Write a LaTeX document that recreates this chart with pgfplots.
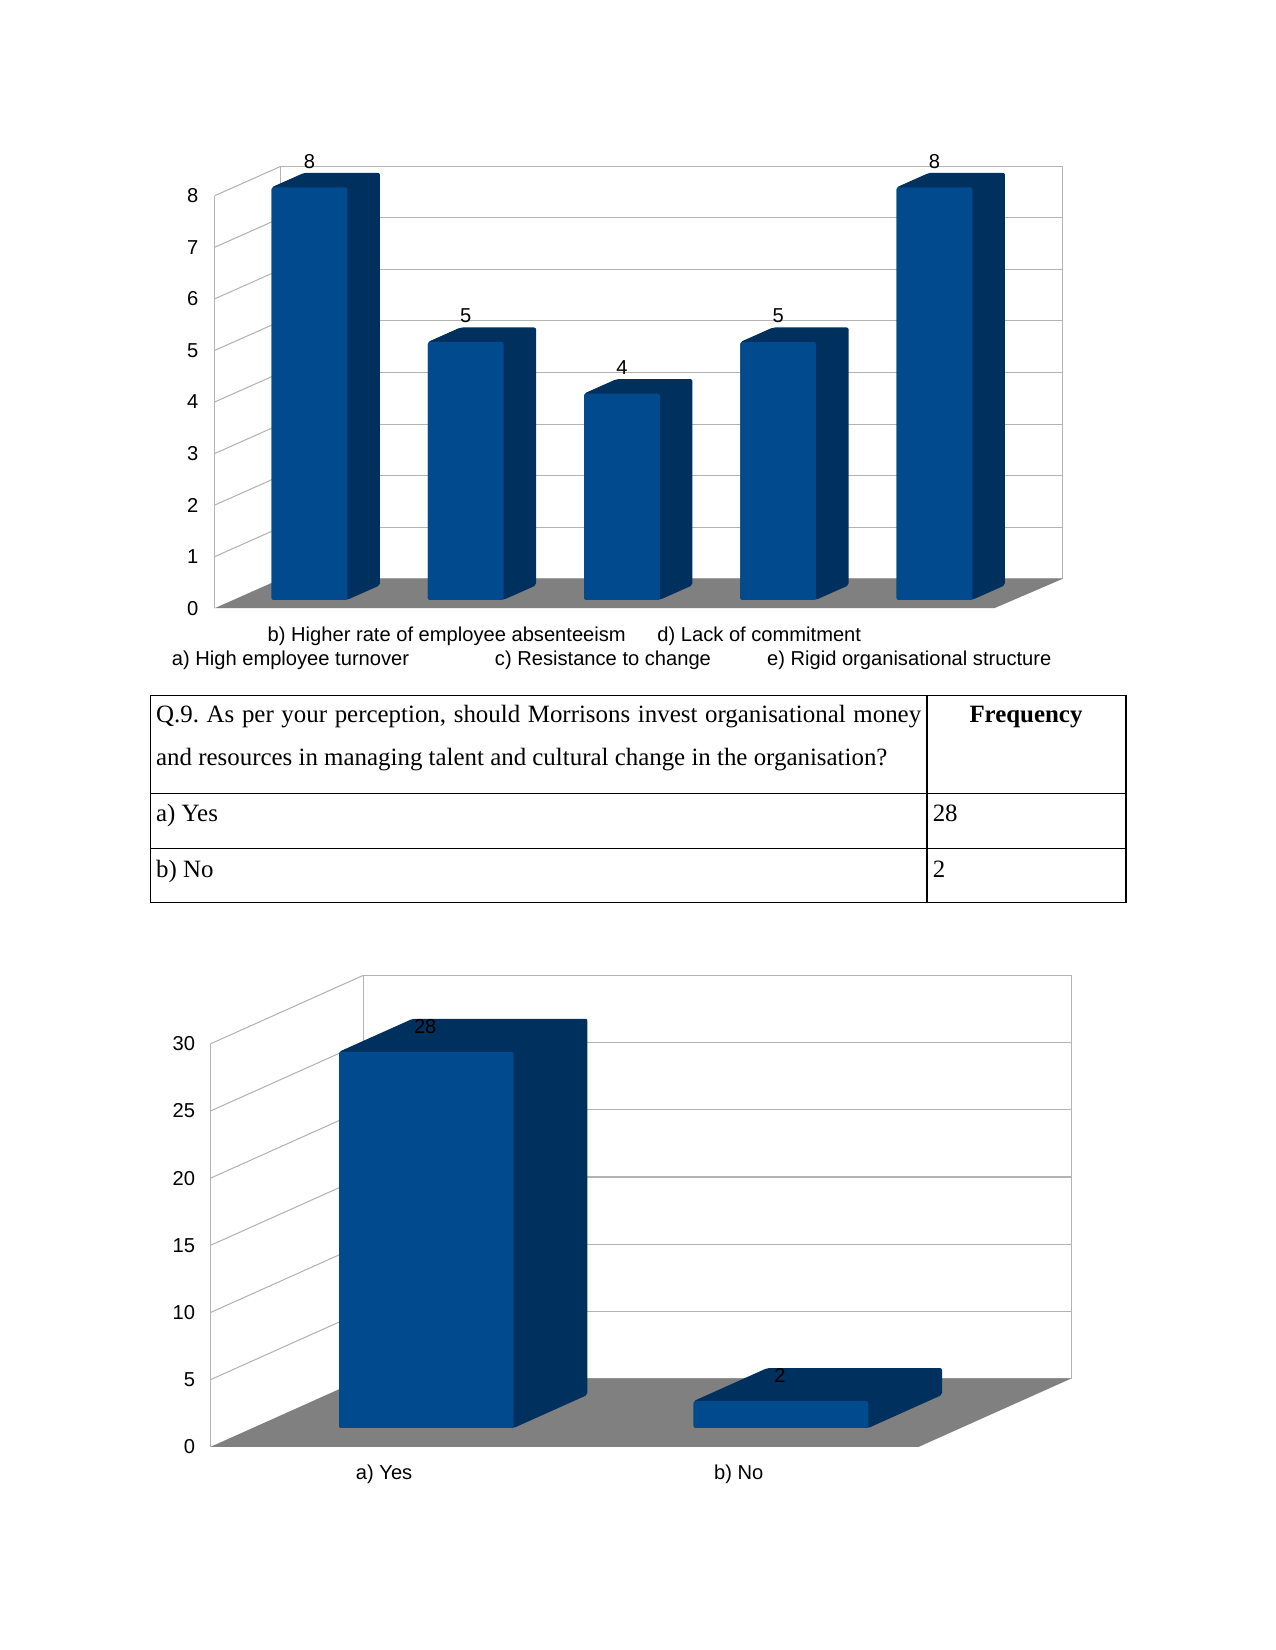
\documentclass[border=0pt]{standalone}
\usepackage{fontspec}
\setmainfont{Liberation Serif}
\newfontfamily\chartfont{Liberation Sans}
\usepackage{pgfplots}
\pgfplotsset{compat=1.18}
\definecolor{barfront}{HTML}{004A8D}
\definecolor{barside}{HTML}{00305E}
\definecolor{floorc}{HTML}{808080}
\definecolor{gridc}{HTML}{B3B3B3}
\newcommand{\cf}{\chartfont\fontsize{9.7}{11.6}\selectfont}
% #1 category, #2 value, #3 front x offset, #4 front y offset, #5 back x offset, #6 back y offset, #7 half width
\newcommand{\cuboid}[7]{%
  \pgfmathsetmacro\cbfxl{#1+#3-#7}\pgfmathsetmacro\cbfxr{#1+#3+#7}%
  \pgfmathsetmacro\cbbxl{#1+#5-#7}\pgfmathsetmacro\cbbxr{#1+#5+#7}%
  \pgfmathsetmacro\cbfyb{#4}\pgfmathsetmacro\cbfyt{#2+#4}%
  \pgfmathsetmacro\cbbyb{#6}\pgfmathsetmacro\cbbyt{#2+#6}%
  \edef\cbdoit{%
    \noexpand\addplot[draw=none, fill=barside, rounded corners=1pt] coordinates {(\cbfxl,\cbfyb) (\cbfxr,\cbfyb) (\cbbxr,\cbbyb) (\cbbxr,\cbbyt) (\cbbxl,\cbbyt) (\cbfxl,\cbfyt)} -- cycle;
    \noexpand\addplot[draw=none, fill=barfront, rounded corners=1pt] coordinates {(\cbfxl,\cbfyb) (\cbfxr,\cbfyb) (\cbfxr,\cbfyt) (\cbfxl,\cbfyt)} -- cycle;
  }%
  \cbdoit}
\pgfplotsset{threed/.style={scale only axis, enlargelimits=false, clip=false,
  axis lines=box, axis line style={gridc, line width=0.5pt},
  ymajorgrids, major grid style={gridc, line width=0.5pt},
  major tick length=0pt, tick label style={font=\cf}, no markers,
  /pgf/number format/assume math mode=true, at={(0pt,0pt)}, anchor=south west}}
\frenchspacing
\begin{document}
\begin{tikzpicture}
\begin{scope}[x=0.507pt, y=0.507pt]
\fill[white] (0,0) rectangle (1212,1568);
\end{scope}

% ---------- top chart ----------
\begin{scope}[shift={(135.37pt,516.13pt)}]
\begin{axis}[threed,
  width=376.70pt, height=198.74pt,
  xmin=-0.061, xmax=4.943, ymin=0, ymax=8,
  ytick={0,1,2,3,4,5,6,7,8},
  yticklabel style={xshift=-36.3pt, yshift=-14.2pt},
  xtick={0,1,2,3,3.96},
  xticklabels={{a) High employee turnover},
    {\raisebox{11.66pt}{b) Higher rate of employee absenteeism}},
    {c) Resistance to change},
    {\raisebox{11.66pt}{d) Lack of commitment}},
    {e) Rigid organisational structure}},
  xticklabel style={anchor=base, yshift=-41.9pt}]
\addplot[gridc, line width=0.5pt] coordinates {(-0.485,0.429) (-0.061,1)};
\addplot[gridc, line width=0.5pt] coordinates {(-0.485,1.429) (-0.061,2)};
\addplot[gridc, line width=0.5pt] coordinates {(-0.485,2.429) (-0.061,3)};
\addplot[gridc, line width=0.5pt] coordinates {(-0.485,3.429) (-0.061,4)};
\addplot[gridc, line width=0.5pt] coordinates {(-0.485,4.429) (-0.061,5)};
\addplot[gridc, line width=0.5pt] coordinates {(-0.485,5.429) (-0.061,6)};
\addplot[gridc, line width=0.5pt] coordinates {(-0.485,6.429) (-0.061,7)};
\addplot[gridc, line width=0.5pt] coordinates {(-0.485,7.429) (-0.061,8)};
\addplot[gridc, line width=0.5pt] coordinates {(-0.485,-0.571) (-0.485,7.429)};
\addplot[draw=none, fill=floorc] coordinates {(-0.485,-0.571) (4.505,-0.571) (4.943,0) (-0.061,0)} -- cycle;
\cuboid{0}{8}{0.1213}{-0.408}{0.330}{-0.127}{0.2424}
\cuboid{1}{5}{0.1213}{-0.408}{0.330}{-0.127}{0.2424}
\cuboid{2}{4}{0.1213}{-0.408}{0.330}{-0.127}{0.2424}
\cuboid{3}{5}{0.1213}{-0.408}{0.330}{-0.127}{0.2424}
\cuboid{4}{8}{0.1213}{-0.408}{0.330}{-0.127}{0.2424}
\addplot[draw=none, point meta=explicit symbolic, nodes near coords,
  nodes near coords align={center},
  nodes near coords style={font=\cf, inner sep=0pt}]
  coordinates {(0.1213,8.1)[8] (1.1213,5.1)[5] (2.1213,4.1)[4] (3.1213,5.1)[5] (4.1213,8.1)[8]};
\end{axis}
\end{scope}

% ---------- table ----------
\begin{scope}[x=0.507pt, y=0.507pt]
\draw[line width=0.6pt] (143,907) rectangle (1070,710);
\draw[line width=0.6pt] (881,907) -- (881,710);
\draw[line width=0.6pt] (143,814) -- (1070,814);
\draw[line width=0.6pt] (143,762) -- (1070,762);
\begin{scope}[every node/.style={inner sep=0pt, font=\fontsize{12}{14}\selectfont}]
\node[anchor=base west] at (148,881) {\makebox[368.6pt][s]{Q.9. As per your perception, should Morrisons invest organisational money}};
\node[anchor=base west] at (148,841) {and resources in managing talent and cultural change in the organisation?};
\node[anchor=base] at (975,881) {\bfseries Frequency};
\node[anchor=base west] at (148,787) {a) Yes};
\node[anchor=base west] at (886,787) {28};
\node[anchor=base west] at (148,734.5) {b) No};
\node[anchor=base west] at (886,734.5) {2};
\end{scope}
\end{scope}

% ---------- bottom chart ----------
\begin{scope}[shift={(174.92pt,130.81pt)}]
\begin{axis}[threed,
  width=341.21pt, height=194.18pt,
  xmin=-0.0593, xmax=1.9377, ymin=0, ymax=30,
  ytick={0,5,10,15,20,25,30},
  yticklabel style={xshift=-77.4pt, yshift=-32.96pt},
  xtick={0,1},
  xticklabels={{a) Yes},{b) No}},
  xticklabel style={anchor=base, yshift=-48.9pt}]
\addplot[gridc, line width=0.5pt] coordinates {(-0.4896,-0.091) (-0.0593,5)};
\addplot[gridc, line width=0.5pt] coordinates {(-0.4896,4.909) (-0.0593,10)};
\addplot[gridc, line width=0.5pt] coordinates {(-0.4896,9.909) (-0.0593,15)};
\addplot[gridc, line width=0.5pt] coordinates {(-0.4896,14.909) (-0.0593,20)};
\addplot[gridc, line width=0.5pt] coordinates {(-0.4896,19.909) (-0.0593,25)};
\addplot[gridc, line width=0.5pt] coordinates {(-0.4896,24.909) (-0.0593,30)};
\addplot[gridc, line width=0.5pt] coordinates {(-0.4896,-5.091) (-0.4896,24.909)};
\addplot[draw=none, fill=floorc] coordinates {(-0.4896,-5.091) (1.5074,-5.091) (1.9377,0) (-0.0593,0)} -- cycle;
\cuboid{0}{28}{0.1192}{-3.681}{0.327}{-1.222}{0.2463}
\cuboid{1}{2}{0.1192}{-3.681}{0.327}{-1.222}{0.2463}
\addplot[draw=none, point meta=explicit symbolic, nodes near coords,
  nodes near coords align={center},
  nodes near coords style={font=\cf, inner sep=0pt}]
  coordinates {(0.116,26.16)[28] (1.116,0.235)[2]};
\end{axis}
\end{scope}
\pgfresetboundingbox
\path[use as bounding box] (0pt,0pt) rectangle (614.48pt,794.98pt);
\end{tikzpicture}
\end{document}
